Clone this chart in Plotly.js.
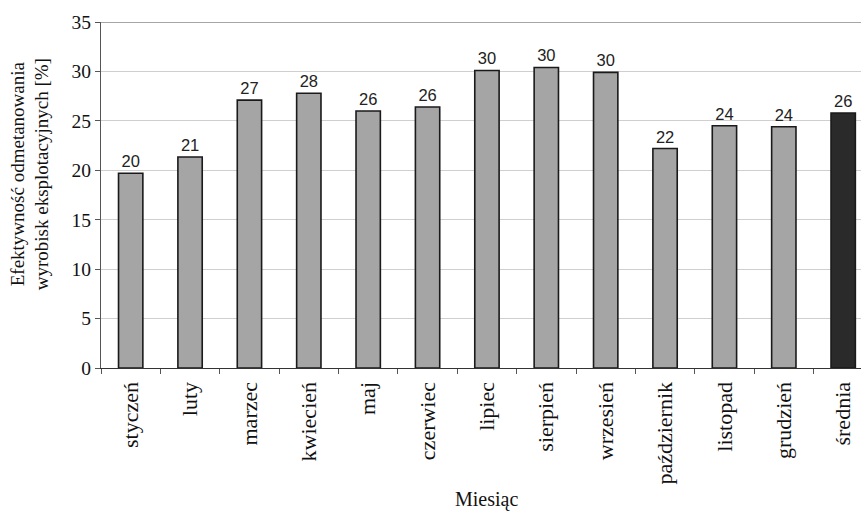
<!DOCTYPE html>
<html>
<head>
<meta charset="utf-8">
<script src="https://cdn.plot.ly/plotly-3.0.1.min.js"></script>
<style>html,body{margin:0;padding:0;background:#fff;overflow:hidden}</style>
</head>
<body>
<div id="chart" style="width:861px;height:513px"></div>
<script>
const months = ["styczeń","luty","marzec","kwiecień","maj","czerwiec","lipiec","sierpień","wrzesień","październik","listopad","grudzień","średnia"];
const values = [19.7, 21.35, 27.1, 27.8, 26.0, 26.4, 30.1, 30.4, 29.9, 22.2, 24.5, 24.4, 25.8];
const labels = ["20","21","27","28","26","26","30","30","30","22","24","24","26"];
const colors = months.map((m, i) => i === months.length - 1 ? "#2a2a2a" : "#a5a5a5");

const serif = "Liberation Serif, Times New Roman, serif";
const sans = "Liberation Sans, Arial, sans-serif";

const trace = {
  type: "bar",
  x: months,
  y: values,
  text: labels,
  textposition: "outside",
  cliponaxis: false,
  textfont: {family: sans, size: 16.5, color: "#222"},
  marker: {color: colors, line: {color: "#1a1a1a", width: 1.6}},
  width: 0.41,
  hoverinfo: "none"
};

const layout = {
  width: 861,
  height: 513,
  margin: {l: 101, r: 0, t: 22, b: 145},
  paper_bgcolor: "#fff",
  plot_bgcolor: "#fff",
  showlegend: false,
  xaxis: {
    type: "category",
    range: [-0.5, 12.3],
    tickangle: -90,
    tickfont: {family: serif, size: 22, color: "#111"},
    ticks: "outside",
    tickson: "boundaries",
    ticklen: 5,
    tickcolor: "#555",
    ticklabelstandoff: 4,
    showline: true,
    linecolor: "#333",
    linewidth: 1.2,
    showgrid: false,
    fixedrange: true
  },
  yaxis: {
    range: [0, 35],
    tickvals: [0,5,10,15,20,25,30,35],
    tickfont: {family: serif, size: 19.5, color: "#111"},
    ticks: "outside",
    ticklen: 5,
    tickcolor: "#555",
    showline: true,
    linecolor: "#555",
    linewidth: 1.2,
    showgrid: true,
    gridcolor: "#cfcfcf",
    gridwidth: 1.2,
    zeroline: false,
    fixedrange: true
  },
  shapes: [
    {type: "line", xref: "paper", yref: "y", x0: 0, x1: 1, y0: 35, y1: 35, line: {color: "#888", width: 1.6}}
  ],
  annotations: [
    {text: "Miesiąc", xref: "paper", yref: "paper", x: 0.507, y: 0, yshift: -131, xanchor: "center", yanchor: "middle", showarrow: false, font: {family: serif, size: 20, color: "#111"}},
    {text: "Efektywność odmetanowania<br>wyrobisk eksplotacyjnych [%]", textangle: -90, xref: "paper", yref: "paper", x: 0, xshift: -71, y: 0.56, xanchor: "center", yanchor: "middle", showarrow: false, font: {family: serif, size: 19, color: "#111"}}
  ]
};

Plotly.newPlot("chart", [trace], layout, {displayModeBar: false, staticPlot: true});
</script>
</body>
</html>
